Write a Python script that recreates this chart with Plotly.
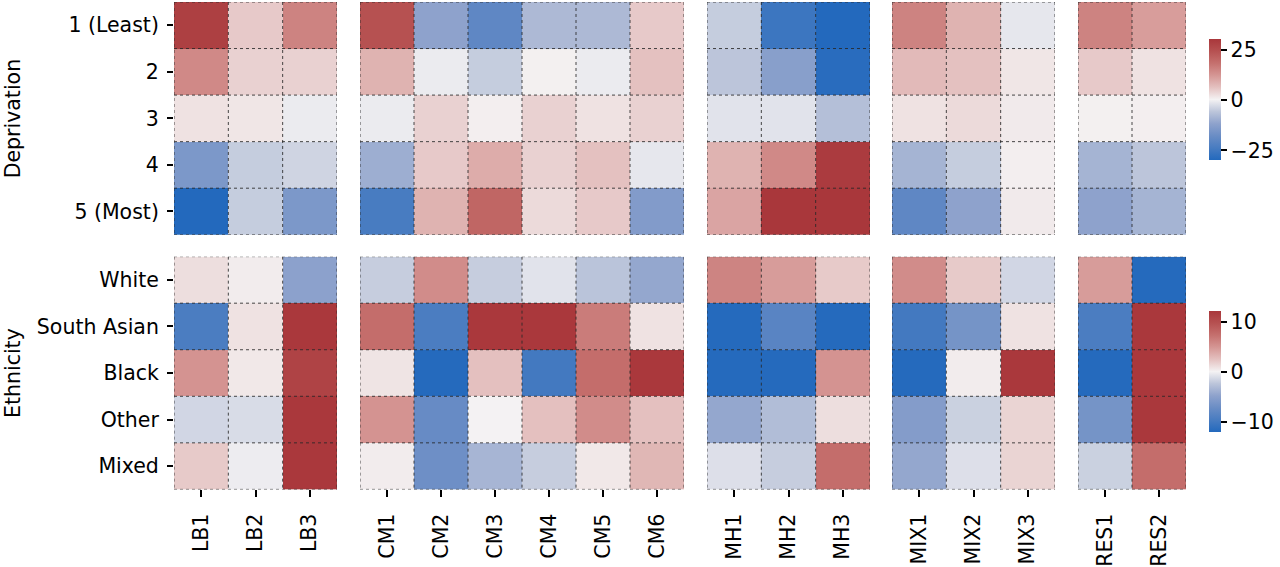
import plotly.graph_objects as go

# ---------------- data ----------------
dep_rows = ["1 (Least)", "2", "3", "4", "5 (Most)"]
eth_rows = ["White", "South Asian", "Black", "Other", "Mixed"]

lb_cols = ["LB1", "LB2", "LB3"]
cm_cols = ["CM1", "CM2", "CM3", "CM4", "CM5", "CM6"]
mh_cols = ["MH1", "MH2", "MH3"]
mix_cols = ["MIX1", "MIX2", "MIX3"]
res_cols = ["RES1", "RES2"]

# Deprivation (rows = dep_rows)
dep_lb = [[28, 5, 15], [14, 4, 4], [2, 1.5, -1], [-15, -5, -4], [-30, -5, -15]]
dep_cm = [[24, -12, -20, -8, -8, 5],
          [8, -1, -5, 0.3, -1, 6],
          [-1, 4, 0.5, 4, 2, 4],
          [-10, 5, 9, 4, 6, -1.5],
          [-24, 8, 20, 3, 5, -14]]
dep_mh = [[-5, -26, -30], [-6, -13, -29], [-2, -2, -7], [8, 14, 29], [10, 30, 30]]
dep_mix = [[15, 8, -1.5], [7, 6, 1.5], [2, 3, 1], [-9, -5, 0.5], [-20, -12, 1]]
dep_res = [[15, 11], [5, 2], [0.3, 0.5], [-9, -6], [-12, -9]]

# Ethnicity (rows = eth_rows)
eth_lb = [[1, 0.3, -5], [-9.5, 0.8, 12], [5, 0.5, 11], [-1.5, -1.2, 12], [2, -0.3, 12]]
eth_cm = [[-2, 5.5, -2, -0.8, -2.5, -4.5],
          [7.5, -9.5, 12, 12, 6.5, 0.8],
          [0.7, -12, 2.5, -10, 7.5, 12],
          [5, -7.5, 0, 2.5, 5.5, 2.5],
          [0.3, -7, -3.5, -2, 0.5, 3]]
eth_mh = [[6, 4.5, 2], [-12, -8.5, -12], [-12, -12, 5], [-4.5, -3, 1], [-1, -2, 7.5]]
eth_mix = [[5.5, 2, -1.5], [-10, -6.5, 0.8], [-12, 0.3, 12], [-5.5, -1.8, 1.5], [-4.5, -1, 1.5]]
eth_res = [[4.5, -12], [-9.5, 12], [-12, 12], [-6.5, 12], [-1.8, 7.5]]

dep_ticks = [-25, 0, 25]
dep_ticktext = ["\u221225", "0", "25"]
eth_ticks = [-10, 0, 10]
eth_ticktext = ["\u221210", "0", "10"]

# ---------------- style / layout ----------------
W, H = 1280, 567
FONT = "DejaVu Sans"
FS = 20.5

vlag = [
    [0.0, "rgb(35,105,189)"],
    [0.1, "rgb(72,124,193)"],
    [0.2, "rgb(106,141,197)"],
    [0.3, "rgb(142,162,204)"],
    [0.4, "rgb(188,197,218)"],
    [0.5, "rgb(244,242,243)"],
    [0.6, "rgb(228,193,192)"],
    [0.7, "rgb(213,150,148)"],
    [0.8, "rgb(197,112,110)"],
    [0.9, "rgb(182,81,81)"],
    [1.0, "rgb(169,55,59)"],
]

col_groups = [lb_cols, cm_cols, mh_cols, mix_cols, res_cols]
dep_groups = [dep_lb, dep_cm, dep_mh, dep_mix, dep_res]
eth_groups = [eth_lb, eth_cm, eth_mh, eth_mix, eth_res]

x_px = [(174, 337), (360, 684), (707, 870), (892, 1055), (1078, 1186)]
y_px = [(2, 236), (258, 492)]


def xd(a, b):
    return [a / W, b / W]


def yd(a, b):
    return [1 - b / H, 1 - a / H]


fig = go.Figure()
layout = dict(
    width=W, height=H,
    margin=dict(l=0, r=0, t=0, b=0),
    paper_bgcolor="white", plot_bgcolor="white",
    font=dict(family=FONT, size=FS, color="black"),
    showlegend=False,
)
shapes = []

rows_spec = [(dep_rows, dep_groups, "coloraxis"), (eth_rows, eth_groups, "coloraxis2")]
k = 0
for r, (row_labels, groups, cax) in enumerate(rows_spec):
    for g, (cols, z) in enumerate(zip(col_groups, groups)):
        k += 1
        xa = "x" if k == 1 else f"x{k}"
        ya = "y" if k == 1 else f"y{k}"
        fig.add_trace(go.Heatmap(z=z, x=cols, y=row_labels, coloraxis=cax,
                                 xaxis=xa, yaxis=ya, hoverongaps=False))
        bottom = r == 1
        first = g == 0
        layout[f"xaxis{k}"] = dict(
            domain=xd(*x_px[g]), anchor=ya, type="category",
            range=[-0.5, len(cols) - 0.5],
            showgrid=False, zeroline=False, showline=False,
            ticks="outside" if bottom else "", ticklen=7, tickwidth=1.5,
            tickcolor="black", showticklabels=bottom, tickangle=-90,
            ticklabelstandoff=8, tickfont=dict(family=FONT, size=FS, color="black"),
            fixedrange=True,
        )
        layout[f"yaxis{k}"] = dict(
            domain=yd(*y_px[r]), anchor=xa, type="category",
            range=[len(row_labels) - 0.5, -0.5],
            showgrid=False, zeroline=False, showline=False,
            ticks="outside" if first else "", ticklen=6, tickwidth=1.5,
            tickcolor="black", showticklabels=first,
            ticklabelstandoff=4, tickfont=dict(family=FONT, size=FS, color="black"),
            fixedrange=True,
        )
        # dotted cell borders
        line = dict(color="rgba(40,40,40,0.85)", width=1, dash="dot")
        for i in range(len(cols) + 1):
            shapes.append(dict(type="line", xref=xa, yref=ya, layer="above",
                               x0=i - 0.5, x1=i - 0.5, y0=-0.5, y1=len(row_labels) - 0.5,
                               line=line))
        for j in range(len(row_labels) + 1):
            shapes.append(dict(type="line", xref=xa, yref=ya, layer="above",
                               x0=-0.5, x1=len(cols) - 0.5, y0=j - 0.5, y1=j - 0.5,
                               line=line))

layout["shapes"] = shapes


def cbar(yc, tickvals, ticktext):
    return dict(
        x=1209 / W, xanchor="left", y=1 - yc / H, yanchor="middle",
        xpad=0, ypad=0,
        thickness=12, thicknessmode="pixels", len=121, lenmode="pixels",
        outlinewidth=0, ticks="outside", ticklen=6, tickwidth=1.5,
        tickcolor="black", tickvals=tickvals, ticktext=ticktext,
        tickfont=dict(family=FONT, size=FS, color="black"),
    )


layout["coloraxis"] = dict(colorscale=vlag, cmin=-30, cmax=30,
                           colorbar=cbar(100.5, dep_ticks, dep_ticktext))
layout["coloraxis2"] = dict(colorscale=vlag, cmin=-12.1, cmax=12.1,
                            colorbar=cbar(373.5, eth_ticks, eth_ticktext))

layout["annotations"] = [
    dict(text="Deprivation", x=0, y=1 - 119 / H, xref="paper", yref="paper",
         textangle=-90, showarrow=False, xanchor="left", yanchor="middle",
         borderpad=0, font=dict(family=FONT, size=FS, color="black")),
    dict(text="Ethnicity", x=0, y=1 - 375 / H, xref="paper", yref="paper",
         textangle=-90, showarrow=False, xanchor="left", yanchor="middle",
         borderpad=0, font=dict(family=FONT, size=FS, color="black")),
]

fig.update_layout(**layout)
fig.write_html("out.html",
               config={"displayModeBar": False},
               post_script="document.body.style.margin='0px';document.body.style.overflow='hidden';")
